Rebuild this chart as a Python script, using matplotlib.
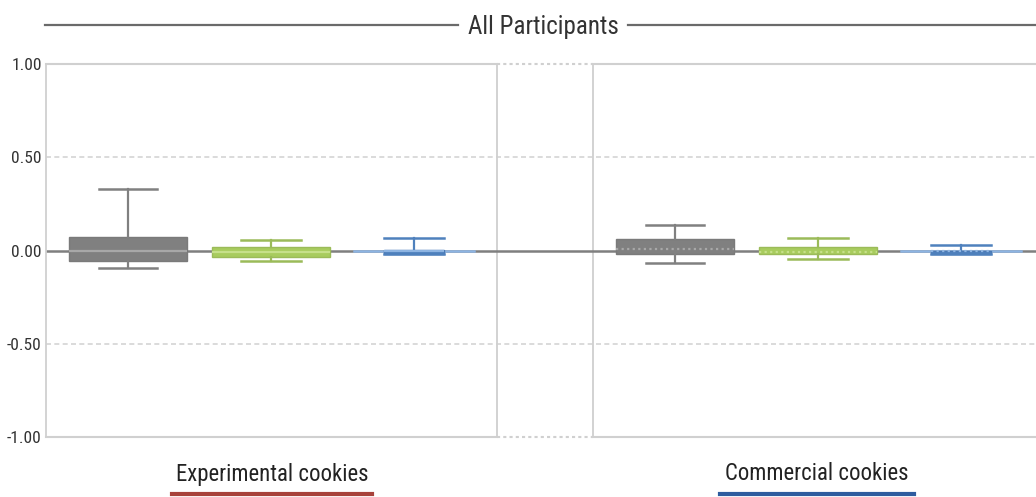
import matplotlib
matplotlib.use("Agg")
import matplotlib.pyplot as plt
from matplotlib import font_manager

# ---------------- data ----------------
title = "All Participants"
groups = ["Experimental cookies", "Commercial cookies"]
series = ["S1", "S2", "S3"]
# per group, per series: (whislo, q1, med, q3, whishi)
exp_whislo = [-0.093, -0.054, -0.018]
exp_q1 = [-0.055, -0.036, -0.018]
exp_med = [0.000, -0.005, 0.000]
exp_q3 = [0.073, 0.021, 0.004]
exp_whishi = [0.330, 0.057, 0.070]

com_whislo = [-0.067, -0.043, -0.020]
com_q1 = [-0.018, -0.018, -0.020]
com_med = [0.008, -0.005, 0.000]
com_q3 = [0.061, 0.021, 0.000]
com_whishi = [0.138, 0.070, 0.030]

ytick_vals = [1.0, 0.5, 0.0, -0.5, -1.0]
ytick_labels = ["1.00", "0.50", "0.00", "-0.50", "-1.00"]

# ---------------- style ----------------
def pick_font(cands):
    for c in cands:
        try:
            font_manager.findfont(c, fallback_to_default=False)
            return c
        except Exception:
            pass
    return "DejaVu Sans"

FONT = pick_font(["Liberation Sans Narrow", "Roboto Condensed", "Open Sans Condensed", "Liberation Sans"])

box_face = ["#808080", "#a8cc5e", "#4f81bd"]
box_edge = ["#7a7a7a", "#9bbb59", "#4a7ab5"]
whisk_col = ["#808080", "#9bbb59", "#4f81bd"]
med_col = ["#a8a8a8", "#c6e08a", "#8db4e2"]
box_w = [118, 118, 60]
cap_w = [58, 60, 60]

W, H = 1036, 497
fig = plt.figure(figsize=(W / 100, H / 100), dpi=100)
fig.patch.set_facecolor("white")

x0, x1 = 46, 1036
ytop, ybot = 64, 437.3
ax = fig.add_axes([x0 / W, (H - ybot) / H, (x1 - x0) / W, (ybot - ytop) / H])
ax.set_xlim(0, x1 - x0)
ax.set_ylim(-1, 1)
for s in ["top", "right", "bottom"]:
    ax.spines[s].set_visible(False)
ax.spines["left"].set_color("#d0d0d0")
ax.spines["left"].set_linewidth(1.3)

panel_w = 451
gap_end = 547
centers_left = [82, 225, 368]
centers_right = [gap_end + 82, gap_end + 225, gap_end + 368]

# borders
grid_c = "#d0d0d0"
for yv in [1.0, -1.0]:
    ax.plot([0, panel_w], [yv, yv], color=grid_c, lw=1.5, clip_on=False, zorder=1)
    ax.plot([panel_w, gap_end], [yv, yv], color=grid_c, lw=1.5, ls=(0, (1.5, 1.5)), clip_on=False, zorder=1)
    ax.plot([gap_end, x1 - x0], [yv, yv], color=grid_c, lw=1.5, clip_on=False, zorder=1)
for yv in [0.5, -0.5]:
    ax.axhline(yv, color="#d4d4d4", lw=1.2, ls=(0, (3, 2)), zorder=1)
for xv in [panel_w, gap_end]:
    ax.axvline(xv, color="#cfcfcf", lw=1.3, zorder=1)

# zero line
ax.axhline(0, color="#7f7f7f", lw=1.8, zorder=2)

ax.set_yticks(ytick_vals)
ax.set_yticklabels(ytick_labels, fontfamily=FONT, fontsize=12.5, color="#333333")
ax.tick_params(axis="y", length=0, pad=3)
ax.set_xticks([])

def draw_group(centers, whislo, q1, med, q3, whishi, dotted_med):
    for i in range(3):
        c = centers[i]
        if i == 2:
            ax.plot([c - 60, c + 60], [0, 0], color="#8db4e2", lw=1.8, zorder=3)
        st = [dict(whislo=whislo[i], q1=q1[i], med=med[i], q3=q3[i], whishi=whishi[i], fliers=[])]
        ax.bxp(st, positions=[c], widths=[box_w[i]], capwidths=[cap_w[i]],
               patch_artist=True, showfliers=False, manage_ticks=False,
               boxprops=dict(facecolor=box_face[i], edgecolor=box_edge[i], lw=1.0),
               whiskerprops=dict(color=whisk_col[i], lw=1.6),
               capprops=dict(color=whisk_col[i], lw=1.8),
               medianprops=dict(color=med_col[i], lw=1.6,
                                ls=(0, (1, 1.5)) if dotted_med else "-"),
               zorder=4)

draw_group(centers_left, exp_whislo, exp_q1, exp_med, exp_q3, exp_whishi, False)
draw_group(centers_right, com_whislo, com_q1, com_med, com_q3, com_whishi, True)

# title with side rules
fig.text(543 / W, 1 - 27 / H, title, ha="center", va="center",
         fontfamily=FONT, fontsize=18, color="#333333")
fig.add_artist(plt.Line2D([45 / W, 458 / W], [1 - 25 / H] * 2, color="#6a6a6a", lw=1.6))
fig.add_artist(plt.Line2D([628 / W, 1036 / W], [1 - 25 / H] * 2, color="#6a6a6a", lw=1.6))

# group labels with coloured underlines
label_x = [272, 817]
ul_cols = ["#a8423b", "#2e5c9f"]
ul_half = [100, 97]
for gname, lx, uc, uh in zip(groups, label_x, ul_cols, ul_half):
    fig.text(lx / W, 1 - 474 / H, gname, ha="center", va="center",
             fontfamily=FONT, fontsize=16.4, color="#222222")
    fig.add_artist(plt.Line2D([(lx - uh) / W, (lx + uh) / W], [1 - 494 / H] * 2,
                              color=uc, lw=3))

fig.savefig("out.png", dpi=100)
